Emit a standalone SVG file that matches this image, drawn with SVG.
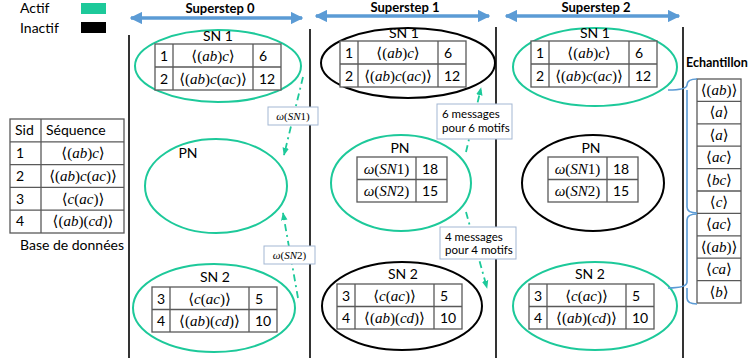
<svg xmlns="http://www.w3.org/2000/svg" xmlns:xlink="http://www.w3.org/1999/xlink" width="748" height="358" viewBox="0 0 748 358">
<style>
.t{font-family:Lato,"Open Sans","Liberation Sans",sans-serif;font-size:14px;fill:#000}
.b{font-family:Lato,"Open Sans","Liberation Sans",sans-serif;font-size:13px;font-weight:bold;fill:#000}
.s{font-family:Lato,"Open Sans","Liberation Sans",sans-serif;font-size:11.5px;fill:#000}
.m{font-family:"Liberation Serif","DejaVu Serif",serif;font-size:15px;fill:#000}
.mb{font-family:"Liberation Serif","DejaVu Serif",serif;font-size:11px;fill:#000}
.i{font-style:italic}
.c{text-anchor:middle}
.cell{fill:#fff;stroke:#595959;stroke-width:1.3}
.ln{stroke:#595959;stroke-width:1.3}
.g{fill:none;stroke:#1DC99A;stroke-width:2}
.k{fill:none;stroke:#000;stroke-width:2}
.v{stroke:#000;stroke-width:1.6}
.ss{stroke:#5B9BD5;stroke-width:3.5;marker-start:url(#bs);marker-end:url(#be)}
.dd{fill:none;stroke:#1DC99A;stroke-width:1.8;stroke-dasharray:7 4 2 4;marker-end:url(#ga)}
.box{fill:#fff;stroke:#A3B7D3;stroke-width:1}
.br{fill:none;stroke:#5B9BD5;stroke-width:1.6}
</style>
<defs>
<marker id="be" viewBox="0 0 10 10" refX="9" refY="5" markerWidth="3.6" markerHeight="3.6" orient="auto" markerUnits="strokeWidth"><path d="M0,0 L10,5 L0,10 Z" fill="#5B9BD5"/></marker>
<marker id="bs" viewBox="0 0 10 10" refX="1" refY="5" markerWidth="3.6" markerHeight="3.6" orient="auto" markerUnits="strokeWidth"><path d="M10,0 L0,5 L10,10 Z" fill="#5B9BD5"/></marker>
<marker id="ga" viewBox="0 0 10 10" refX="9" refY="5" markerWidth="4.5" markerHeight="4.5" orient="auto" markerUnits="strokeWidth"><path d="M0,1 L10,5 L0,9 Z" fill="#1DC99A"/></marker>
<g id="tsn1">
<rect class="cell" x="0" y="0" width="126" height="46"/>
<line class="ln" x1="18" y1="0" x2="18" y2="46"/><line class="ln" x1="98" y1="0" x2="98" y2="46"/><line class="ln" x1="0" y1="23" x2="126" y2="23"/>
<text class="t c" x="9" y="17">1</text><text class="m c" x="58" y="17">⟨(<tspan class="i">ab</tspan>)<tspan class="i">c</tspan>⟩</text><text class="t" x="104" y="17">6</text>
<text class="t c" x="9" y="40">2</text><text class="m c" x="58" y="40">⟨(<tspan class="i">ab</tspan>)<tspan class="i">c</tspan>(<tspan class="i">ac</tspan>)⟩</text><text class="t" x="104" y="40">12</text>
</g>
<g id="tsn2">
<rect class="cell" x="0" y="0" width="125" height="45"/>
<line class="ln" x1="18" y1="0" x2="18" y2="45"/><line class="ln" x1="97" y1="0" x2="97" y2="45"/><line class="ln" x1="0" y1="22.5" x2="125" y2="22.5"/>
<text class="t c" x="9" y="16.5">3</text><text class="m c" x="57.5" y="16.5">⟨<tspan class="i">c</tspan>(<tspan class="i">ac</tspan>)⟩</text><text class="t" x="103" y="16.5">5</text>
<text class="t c" x="9" y="39">4</text><text class="m c" x="57.5" y="39">⟨(<tspan class="i">ab</tspan>)(<tspan class="i">cd</tspan>)⟩</text><text class="t" x="103" y="39">10</text>
</g>
<g id="tpn">
<rect class="cell" x="0" y="0" width="90" height="45"/>
<line class="ln" x1="59" y1="0" x2="59" y2="45"/><line class="ln" x1="0" y1="22.5" x2="90" y2="22.5"/>
<text class="m c" x="29.5" y="16.5"><tspan class="i">ω</tspan>(<tspan class="i">SN</tspan>1)</text><text class="t" x="65" y="16.5">18</text>
<text class="m c" x="29.5" y="39"><tspan class="i">ω</tspan>(<tspan class="i">SN</tspan>2)</text><text class="t" x="65" y="39">15</text>
</g>
</defs>
<rect width="748" height="358" fill="#fff"/>

<g id="legend">
<text class="t" x="20" y="13">Actif</text>
<rect x="81" y="3" width="25" height="11" fill="#1DC99A"/>
<text class="t" x="20" y="33">Inactif</text>
<rect x="81" y="22" width="25" height="11" fill="#000"/>
</g>

<g id="supersteps">
<text class="b c" x="220" y="12.5">Superstep 0</text>
<line class="ss" x1="131" y1="18" x2="302" y2="18"/>
<text class="b c" x="405" y="11.5">Superstep 1</text>
<line class="ss" x1="316" y1="16" x2="489" y2="16"/>
<text class="b c" x="596" y="11.5">Superstep 2</text>
<line class="ss" x1="506" y1="16" x2="679" y2="16"/>
</g>

<g id="separators">
<line class="v" x1="129" y1="35" x2="129" y2="358"/>
<line class="v" x1="310" y1="29" x2="310" y2="358"/>
<line class="v" x1="496" y1="27" x2="496" y2="358"/>
<line class="v" x1="683" y1="27" x2="683" y2="358"/>
</g>

<g id="database">
<rect class="cell" x="10" y="119" width="114" height="114"/>
<line class="ln" x1="41" y1="119" x2="41" y2="233"/>
<line class="ln" x1="10" y1="141.8" x2="124" y2="141.8"/>
<line class="ln" x1="10" y1="164.6" x2="124" y2="164.6"/>
<line class="ln" x1="10" y1="187.4" x2="124" y2="187.4"/>
<line class="ln" x1="10" y1="210.2" x2="124" y2="210.2"/>
<text class="t" x="15" y="135">Sid</text><text class="t" x="46" y="135">Séquence</text>
<text class="t" x="16" y="158">1</text><text class="m c" x="83" y="158">⟨(<tspan class="i">ab</tspan>)<tspan class="i">c</tspan>⟩</text>
<text class="t" x="16" y="181">2</text><text class="m c" x="83" y="181">⟨(<tspan class="i">ab</tspan>)<tspan class="i">c</tspan>(<tspan class="i">ac</tspan>)⟩</text>
<text class="t" x="16" y="204">3</text><text class="m c" x="83" y="204">⟨<tspan class="i">c</tspan>(<tspan class="i">ac</tspan>)⟩</text>
<text class="t" x="16" y="226">4</text><text class="m c" x="83" y="226">⟨(<tspan class="i">ab</tspan>)(<tspan class="i">cd</tspan>)⟩</text>
<text class="t" x="20" y="250">Base de données</text>
</g>

<g id="s0-sn1"><ellipse class="g" cx="218" cy="66" rx="83" ry="36"/><text class="t c" x="218" y="41">SN 1</text><use xlink:href="#tsn1" x="155" y="44"/></g>
<g id="s0-pn"><ellipse class="g" cx="216" cy="186" rx="71" ry="47"/><text class="t c" x="188" y="158">PN</text></g>
<g id="s0-sn2"><ellipse class="g" cx="214" cy="308" rx="81" ry="44"/><text class="t c" x="215" y="282">SN 2</text><use xlink:href="#tsn2" x="152" y="287"/></g>

<g id="s1-sn1"><ellipse class="k" cx="408" cy="63" rx="87" ry="35"/><text class="t c" x="404" y="38">SN 1</text><use xlink:href="#tsn1" x="340" y="41"/></g>
<g id="s1-pn"><ellipse class="g" cx="401" cy="183" rx="70" ry="48"/><text class="t c" x="400" y="153">PN</text><use xlink:href="#tpn" x="357" y="157"/></g>
<g id="s1-sn2"><ellipse class="k" cx="402" cy="306" rx="80" ry="44"/><text class="t c" x="403" y="279">SN 2</text><use xlink:href="#tsn2" x="337" y="284"/></g>

<g id="s2-sn1"><ellipse class="g" cx="595" cy="67" rx="82" ry="39"/><text class="t c" x="595" y="38">SN 1</text><use xlink:href="#tsn1" x="531" y="41"/></g>
<g id="s2-pn"><ellipse class="k" cx="593" cy="183" rx="71" ry="48"/><text class="t c" x="591" y="153">PN</text><use xlink:href="#tpn" x="548" y="157"/></g>
<g id="s2-sn2"><ellipse class="g" cx="595" cy="306" rx="82" ry="44"/><text class="t c" x="590" y="279">SN 2</text><use xlink:href="#tsn2" x="529" y="284"/></g>

<g id="echantillon">
<text class="b" x="686" y="67" style="font-size:12.5px">Echantillon</text>
<rect class="cell" x="697" y="79" width="44" height="224"/>
<line class="ln" x1="697" y1="101.4" x2="741" y2="101.4"/>
<line class="ln" x1="697" y1="123.8" x2="741" y2="123.8"/>
<line class="ln" x1="697" y1="146.2" x2="741" y2="146.2"/>
<line class="ln" x1="697" y1="168.6" x2="741" y2="168.6"/>
<line class="ln" x1="697" y1="191" x2="741" y2="191"/>
<line class="ln" x1="697" y1="213.4" x2="741" y2="213.4"/>
<line class="ln" x1="697" y1="235.8" x2="741" y2="235.8"/>
<line class="ln" x1="697" y1="258.2" x2="741" y2="258.2"/>
<line class="ln" x1="697" y1="280.6" x2="741" y2="280.6"/>
<text class="m c" x="719" y="95">⟨(<tspan class="i">ab</tspan>)⟩</text>
<text class="m c" x="719" y="117">⟨<tspan class="i">a</tspan>⟩</text>
<text class="m c" x="719" y="140">⟨<tspan class="i">a</tspan>⟩</text>
<text class="m c" x="719" y="162">⟨<tspan class="i">ac</tspan>⟩</text>
<text class="m c" x="719" y="185">⟨<tspan class="i">bc</tspan>⟩</text>
<text class="m c" x="719" y="207">⟨<tspan class="i">c</tspan>⟩</text>
<text class="m c" x="719" y="229">⟨<tspan class="i">ac</tspan>⟩</text>
<text class="m c" x="719" y="252">⟨(<tspan class="i">ab</tspan>)⟩</text>
<text class="m c" x="719" y="274">⟨<tspan class="i">ca</tspan>⟩</text>
<text class="m c" x="719" y="297">⟨<tspan class="i">b</tspan>⟩</text>
</g>

<g id="connectors">
<path class="br" d="M697,79 Q687,79 687,85 Q687,90 668,90 M687,90 Q687,95 687,100 L687,207 Q687,213 697,213"/>
<path class="br" d="M697,214 Q687,214 687,220 L687,282 Q687,288 668,288 M687,288 Q687,294 687,298 Q687,304 697,304"/>
<path class="dd" d="M303,77 L284,155"/>
<path class="dd" d="M298,298 L283,213"/>
<path class="dd" d="M466,152 L481,88"/>
<path class="dd" d="M466,212 L487,288"/>
</g>

<g id="labels">
<rect class="box" x="268" y="107" width="50" height="18"/>
<text class="mb c" x="293" y="120"><tspan class="i">ω</tspan>(<tspan class="i">SN</tspan>1)</text>
<rect class="box" x="264" y="246" width="51" height="18"/>
<text class="mb c" x="289.5" y="259"><tspan class="i">ω</tspan>(<tspan class="i">SN</tspan>2)</text>
<rect class="box" x="437" y="104" width="75" height="35"/>
<text class="s" x="442" y="118">6 messages</text>
<text class="s" x="442" y="132">pour 6 motifs</text>
<rect class="box" x="440" y="227" width="76" height="32"/>
<text class="s" x="445" y="241">4 messages</text>
<text class="s" x="445" y="254">pour 4 motifs</text>
</g>
</svg>
